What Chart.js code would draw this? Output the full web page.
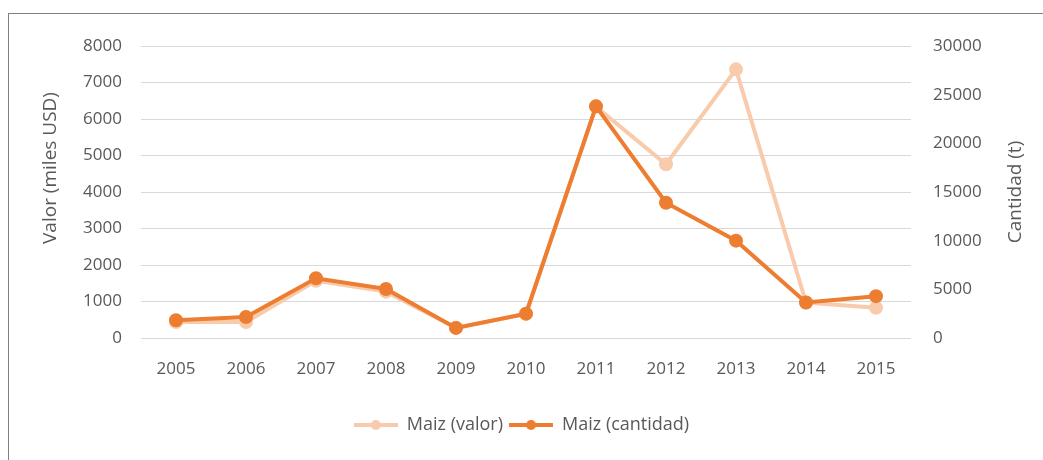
<!DOCTYPE html>
<html lang="es">
<head>
  <meta charset="UTF-8" />
  <title>Maiz - valor y cantidad</title>
  <script src="https://cdn.jsdelivr.net/npm/chart.js"></script>
  <style>
    html, body { margin: 0; padding: 0; background: #fff; }
    .wrap { position: relative; width: 1043px; height: 460px; overflow: hidden; }
    .frame { position: absolute; left: 8px; top: 13px; width: 1100px; height: 500px; border: 1px solid #808080; box-sizing: border-box; }
    canvas { position: absolute; left: 0; top: 0; }
  </style>
</head>
<body>
  <div class="wrap">
    <div class="frame"></div>
    <canvas id="chart" width="1043" height="460"></canvas>
  </div>

  <script>
    const years = ['2005', '2006', '2007', '2008', '2009', '2010', '2011', '2012', '2013', '2014', '2015'];
    const valor = [440, 440, 1570, 1270, 280, 660, 6340, 4760, 7360, 970, 830];
    const cantidad = [1830, 2150, 6140, 5030, 1040, 2500, 23800, 13900, 10000, 3650, 4300];
    const valorTicks = [0, 1000, 2000, 3000, 4000, 5000, 6000, 7000, 8000];
    const cantidadTicks = [0, 5000, 10000, 15000, 20000, 25000, 30000];
    const leftTitle = 'Valor (miles USD)';
    const rightTitle = 'Cantidad (t)';

    const darkOrange = '#ED7D31';
    const lightOrange = '#F8CBAD';
    const textGray = '#595959';
    const font = 'Open Sans';

    // little line + dot for the legend, like the Excel one
    function legendMark(color) {
      const c = document.createElement('canvas');
      c.width = 44; c.height = 12;
      const g = c.getContext('2d');
      g.strokeStyle = color;
      g.lineWidth = 4;
      g.beginPath(); g.moveTo(0, 6); g.lineTo(44, 6); g.stroke();
      g.fillStyle = color;
      g.beginPath(); g.arc(22, 6, 5, 0, Math.PI * 2); g.fill();
      return c;
    }

    // both axis titles read bottom-to-top, Chart.js turns the right one the other way
    const axisTitles = {
      id: 'axisTitles',
      afterDraw(chart) {
        const ctx = chart.ctx;
        ctx.save();
        ctx.fillStyle = textGray;
        ctx.font = '19px "' + font + '"';
        ctx.textAlign = 'center';
        ctx.textBaseline = 'middle';
        [[51, 168, leftTitle], [1016, 192, rightTitle]].forEach(([x, y, t]) => {
          ctx.save();
          ctx.translate(x, y);
          ctx.rotate(-Math.PI / 2);
          ctx.fillText(t, 0, 0);
          ctx.restore();
        });
        ctx.restore();
      }
    };

    new Chart(document.getElementById('chart'), {
      type: 'line',
      data: {
        labels: years,
        datasets: [
          {
            label: 'Maiz (valor)',
            data: valor,
            yAxisID: 'y',
            borderColor: lightOrange,
            backgroundColor: lightOrange,
            borderWidth: 4,
            pointRadius: 5,
            order: 1
          },
          {
            label: 'Maiz (cantidad)',
            data: cantidad,
            yAxisID: 'y1',
            borderColor: darkOrange,
            backgroundColor: darkOrange,
            borderWidth: 4,
            pointRadius: 5,
            order: 0
          }
        ]
      },
      plugins: [axisTitles],
      options: {
        responsive: false,
        animation: false,
        layout: { padding: { top: 46, bottom: 16 } },
        plugins: {
          tooltip: { enabled: false },
          legend: {
            position: 'bottom',
            labels: {
              usePointStyle: true,
              pointStyleWidth: 44,
              color: textGray,
              font: { family: font, size: 18 },
              padding: 6,
              generateLabels(chart) {
                return chart.data.datasets.map((ds, i) => ({
                  text: ds.label,
                  pointStyle: legendMark(ds.borderColor),
                  fillStyle: ds.borderColor,
                  strokeStyle: ds.borderColor,
                  lineWidth: 0,
                  fontColor: textGray,
                  datasetIndex: i
                }));
              }
            }
          }
        },
        scales: {
          x: {
            offset: true,
            grid: { display: false, drawTicks: false },
            border: { display: false },
            ticks: { color: textGray, font: { family: font, size: 17 }, padding: 21 },
            afterFit(scale) { scale.height = 72; }
          },
          y: {
            position: 'left',
            min: 0,
            max: 8000,
            afterBuildTicks(scale) { scale.ticks = valorTicks.map(v => ({ value: v })); },
            grid: { color: '#D9D9D9', drawTicks: false },
            border: { display: false },
            ticks: { color: textGray, font: { family: font, size: 17 }, padding: 19, callback: v => String(v) },
            afterFit(scale) { scale.width = 141; }
          },
          y1: {
            position: 'right',
            min: 0,
            max: 30000,
            afterBuildTicks(scale) { scale.ticks = cantidadTicks.map(v => ({ value: v })); },
            grid: { display: false, drawTicks: false },
            border: { display: false },
            ticks: { color: textGray, font: { family: font, size: 17 }, padding: 22, callback: v => String(v) },
            afterFit(scale) { scale.width = 132; }
          }
        }
      }
    });
  </script>
</body>
</html>
